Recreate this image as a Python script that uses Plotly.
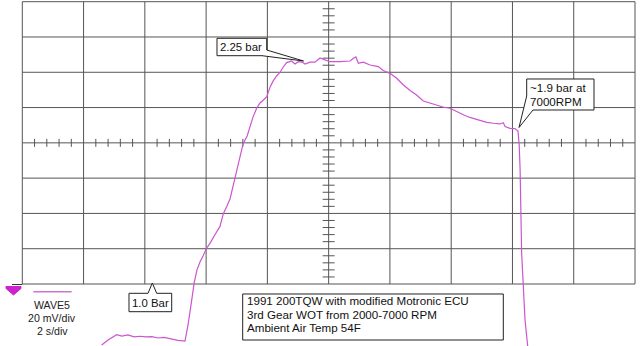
import plotly.graph_objects as go

# ---- data: boost-pressure sensor trace (time in s, signal in mV above grid bottom) ----
time_s = [2.59, 2.80, 3.08, 3.25, 3.45, 3.65, 3.84, 4.04, 4.23, 4.43, 4.63, 4.82, 5.08, 5.31,
          5.41, 5.53, 5.61, 5.70, 5.80, 5.90, 6.01, 6.13, 6.24, 6.36, 6.45, 6.56, 6.68, 6.78,
          6.94, 7.05, 7.21, 7.34, 7.43, 7.53, 7.65, 7.76, 7.87, 7.98, 8.09, 8.19, 8.30, 8.41,
          8.52, 8.63, 8.79, 8.90, 9.01, 9.13, 9.23, 9.39, 9.55, 9.72, 9.88, 10.04, 10.37, 10.59,
          10.70, 10.81, 10.89, 10.97, 11.13, 11.35, 11.51, 11.62, 11.78, 12.00, 12.22, 12.44,
          12.66, 12.87, 13.09, 13.31, 13.53, 13.73, 13.96, 14.12, 14.29, 14.45, 14.61, 14.78,
          14.94, 15.16, 15.38, 15.59, 15.70, 15.76, 15.92, 16.08, 16.18, 16.22, 16.25, 16.30,
          16.41, 16.51]
wave_mv = [-34.6, -31.7, -28.7, -29.5, -28.9, -30.0, -29.6, -30.0, -29.8, -30.6, -30.3, -31.0,
           -32.0, -32.3, -23.2, -9.1, 0.6, 7.9, 12.5, 15.9, 20.1, 23.2, 26.8, 30.0, 32.5, 39.7,
           44.2, 48.2, 59.9, 68.4, 79.7, 83.9, 89.0, 94.6, 99.6, 102.6, 104.3, 106.2, 111.7,
           115.1, 117.9, 119.9, 123.0, 125.5, 126.4, 124.7, 126.0, 125.8, 124.7, 125.7, 125.7,
           128.1, 127.0, 126.0, 126.0, 126.0, 126.4, 127.9, 128.7, 125.1, 125.7, 124.1, 123.6,
           123.2, 121.0, 119.4, 116.6, 112.8, 109.7, 107.1, 103.7, 102.4, 101.2, 100.3, 99.6,
           98.1, 96.7, 95.5, 94.4, 93.5, 92.8, 91.6, 91.1, 90.7, 91.4, 89.2, 88.2, 88.1, 86.7,
           78.8, 64.6, 17.6, -20.4, -37.4]

x_grid_s = [0, 2, 4, 6, 8, 10, 12, 14, 16, 18, 20]
y_grid_mv = [0, 20, 40, 60, 80, 100, 120, 140, 160]

legend_lines = ["WAVE5", "20 mV/div", "2 s/div"]
note_lines = ["1991 200TQW with modified Motronic ECU",
              "3rd Gear WOT from 2000-7000 RPM",
              "Ambient Air Temp 54F"]

# ---- geometry ----
W, H = 640, 346
X0, X1 = 22.3, 635.0      # grid left / right in px
YT, YB = 1.7, 284.0       # grid top / bottom in px
sx = (X1 - X0) / 20.0
sy = (YB - YT) / 160.0
xr = [-X0 / sx, (W - X0) / sx]
yr = [(YB - H) / sy, YB / sy]

GRID = "#555555"
TRACE = "#cc55d0"
FONT = "Arial, Liberation Sans, sans-serif"


def px(x):
    return x / W


def py(y):
    return 1 - y / H


def path(pts):
    s = "M " + " L ".join(f"{px(a):.5f},{py(b):.5f}" for a, b in pts) + " Z"
    return s


shapes = []
for t in x_grid_s:
    shapes.append(dict(type="line", xref="x", yref="y", x0=t, x1=t, y0=y_grid_mv[0], y1=y_grid_mv[-1],
                       line=dict(color=GRID, width=1), layer="below"))
for v in y_grid_mv:
    shapes.append(dict(type="line", xref="x", yref="y", x0=x_grid_s[0], x1=x_grid_s[-1], y0=v, y1=v,
                       line=dict(color=GRID, width=1), layer="below"))

# minor ticks on centre axes
for k in range(1, 50):
    if k % 5:
        t = 0.4 * k
        shapes.append(dict(type="line", xref="x", yref="y", x0=t, x1=t, y0=80 - 4 / sy, y1=80 + 4 / sy,
                           line=dict(color=GRID, width=1), layer="below"))
for k in range(1, 40):
    if k % 5:
        v = 4 * k
        shapes.append(dict(type="line", xref="x", yref="y", x0=10 - 6 / sx, x1=10 + 6 / sx, y0=v, y1=v,
                           line=dict(color=GRID, width=1), layer="below"))

box_style = dict(type="path", xref="paper", yref="paper", fillcolor="white",
                 line=dict(color="#222222", width=1), layer="above")
# 2.25 bar callout
shapes.append(dict(box_style, path=path([(217, 38.3), (266.7, 38.3), (266.7, 50), (303.5, 61),
                                         (262, 55.7), (217, 55.7)])))
# ~1.9 bar callout
shapes.append(dict(box_style, path=path([(526.7, 79), (594, 79), (594, 110), (533, 110),
                                         (519, 127.5), (526.7, 96)])))
# 1.0 Bar callout
shapes.append(dict(box_style, path=path([(129, 293.3), (148, 293.3), (152.3, 283), (156.7, 293.3),
                                         (171.7, 293.3), (171.7, 311.7), (129, 311.7)])))
# note box
shapes.append(dict(box_style, path=path([(242.7, 294), (503.3, 294), (503.3, 340), (242.7, 340)])))

# legend line sample
shapes.append(dict(type="line", xref="paper", yref="paper", x0=px(33.3), x1=px(71.7), y0=py(291.7),
                   y1=py(291.7), line=dict(color="#cc77cc", width=1.5)))
# ground marker
shapes.append(dict(type="line", xref="paper", yref="paper", x0=px(12), x1=px(22.3), y0=py(284.5),
                   y1=py(284.5), line=dict(color="#333333", width=1)))
shapes.append(dict(type="path", xref="paper", yref="paper", fillcolor="#cc22cc",
                   line=dict(color="#cc22cc", width=1),
                   path=path([(6, 286.5), (21, 286.5), (21, 288.5), (13.5, 295), (6, 288.5)])))

annotations = []


def txt(x, y, s, size=11.6, anchor="left", color="#111111"):
    annotations.append(dict(x=px(x), y=py(y), xref="paper", yref="paper", text=s, showarrow=False,
                            xanchor=anchor, yanchor="middle", font=dict(family=FONT, size=size, color=color)))


txt(218, 46.5, "2.25 bar", 11.4)
txt(527.5, 87.5, "~1.9 bar at")
txt(527.5, 101, "7000RPM")
txt(130, 302.5, "1.0 Bar", 11.4)
for i, s in enumerate(note_lines):
    txt(244.5, 300.7 + 13.5 * i, s)
for i, s in enumerate(legend_lines):
    txt(52, 304.5 + 13.2 * i, s, 10.6, anchor="center", color="#222222")

fig = go.Figure(go.Scatter(x=time_s, y=wave_mv, mode="lines", line=dict(color=TRACE, width=1.2),
                           hoverinfo="skip"))
fig.update_layout(width=W, height=H, margin=dict(l=0, r=0, t=0, b=0), paper_bgcolor="white",
                  plot_bgcolor="white", showlegend=False, shapes=shapes, annotations=annotations,
                  xaxis=dict(range=xr, visible=False, fixedrange=True),
                  yaxis=dict(range=yr, visible=False, fixedrange=True))
fig.write_html("out.html", config={"displayModeBar": False},
               post_script="document.body.style.margin='0';document.body.style.overflow='hidden';")
